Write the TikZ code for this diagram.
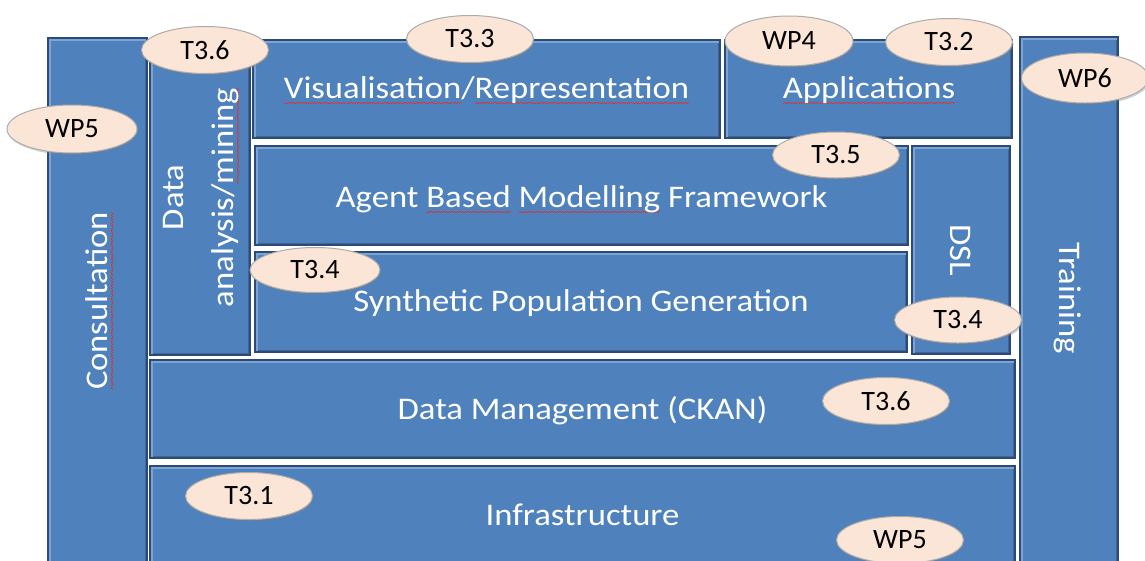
\documentclass[tikz,border=0pt]{standalone}
\usepackage{fontspec}
\setmainfont{Carlito}
\newfontfamily\boxfont[FakeStretch=1.1]{Carlito}
\usetikzlibrary{shapes.geometric,shadows}
\definecolor{boxblue}{HTML}{4F81BD}
\definecolor{boxedge}{HTML}{2C4A74}
\definecolor{boxlight}{HTML}{7DA4D6}
\definecolor{boxdark}{HTML}{3F6699}
\definecolor{peach}{HTML}{FBE5D6}
\definecolor{spellred}{HTML}{E0302A}
\newsavebox\splbox
\newcommand\spl[1]{\leavevmode\sbox\splbox{#1}%
  \rlap{\hbox to \wd\splbox{\color{spellred}\xleaders\hbox{\rule[-5.4pt]{1.3pt}{0.9pt}\rule[-4.4pt]{1.3pt}{0.9pt}}\hfil}}%
  \usebox\splbox}
\tikzset{
  x=1pt, y=-1pt,
  blk/.style={fill=boxblue, draw=boxedge, line width=2.2pt, inner sep=0pt,
    path picture={
      \draw[boxdark, line width=5pt] (path picture bounding box.north east) -- (path picture bounding box.south east) -- (path picture bounding box.south west);
      \draw[boxlight, line width=5pt] (path picture bounding box.south west) -- (path picture bounding box.north west) -- (path picture bounding box.north east);
    }},
  lbl/.style={text=white, font=\boxfont\fontsize{31.5}{36}\selectfont, inner sep=0pt, align=center},
  tag/.style={ellipse, fill=peach, draw=gray!65, line width=1pt, text=black,
    font=\fontsize{28}{30}\selectfont, minimum width=127pt, minimum height=47pt, inner sep=0pt,
    drop shadow={opacity=0.35, shadow xshift=1pt, shadow yshift=-2pt}}
}
\begin{document}
\begin{tikzpicture}
\useasboundingbox (0,0) rectangle (1145,560);
\clip (0,0) rectangle (1145,560);
\fill[white] (0,0) rectangle (1145,560);
% boxes
\node[blk, minimum width=99pt, minimum height=526pt] (consult) at (97.5,301) {};
\node[blk, minimum width=100pt, minimum height=315pt] (data) at (200,197.5) {};
\node[blk, minimum width=467pt, minimum height=98pt] (vis) at (486.5,89) {};
\node[blk, minimum width=287pt, minimum height=98pt] (app) at (868.5,89) {};
\node[blk, minimum width=98pt, minimum height=530pt] (train) at (1069,302) {};
\node[blk, minimum width=653pt, minimum height=99pt] (abm) at (581.5,195.5) {};
\node[blk, minimum width=652pt, minimum height=100pt] (spg) at (581,302) {};
\node[blk, minimum width=98pt, minimum height=208pt] (dsl) at (961,250) {};
\node[blk, minimum width=865pt, minimum height=98pt] (dm) at (582.5,409) {};
\node[blk, minimum width=865pt, minimum height=101pt] (infra) at (582.5,516.5) {};
% labels
\node[lbl, rotate=90] (consultT) at (99,301) {\spl{Consultation}};
\node[lbl, rotate=90, font=\boxfont\fontsize{31.5}{50}\selectfont] (dataT) at (201,197.5) {Data\\analysis/\spl{mining}};
\node[lbl] (visT) at (486.5,90) {\spl{Visualisation}/\spl{Representation}};
\node[lbl] (appT) at (869,90) {\spl{Applications}};
\node[lbl, rotate=-90] (trainT) at (1068,298) {Training};
\node[lbl] (abmT) at (581.5,199) {Agent \spl{Based} \spl{Modelling} Framework};
\node[lbl] (spgT) at (581,303) {Synthetic Population Generation};
\node[lbl, rotate=-90] (dslT) at (dsl.center) {DSL};
\node[lbl] (dmT) at (582.5,411) {Data Management (CKAN)};
\node[lbl] (infraT) at (582.5,515) {Infrastructure};
% tags
\node[tag] (t36a) at (205,50) {T3.6};
\node[tag] (t33) at (470,39) {T3.3};
\node[tag, minimum width=128pt, minimum height=50pt] (wp4) at (789,41) {WP4};
\node[tag] (t32) at (949,42) {T3.2};
\node[tag, minimum height=50pt] (wp6) at (1085,78) {WP6};
\node[tag, minimum width=130pt, minimum height=48pt] (wp5a) at (72,129) {WP5};
\node[tag, minimum height=46pt] (t35) at (836,155) {T3.5};
\node[tag, minimum width=130pt, minimum height=45pt] (t34a) at (315,270) {T3.4};
\node[tag, minimum height=46pt] (t34b) at (958,320) {T3.4};
\node[tag] (t36b) at (886,401) {T3.6};
\node[tag] (t31) at (249,496) {T3.1};
\node[tag] (wp5b) at (900,540) {WP5};
\end{tikzpicture}
\end{document}
